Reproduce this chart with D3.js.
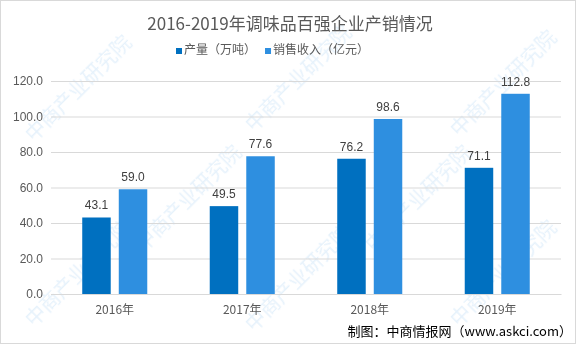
<!DOCTYPE html>
<html><head><meta charset="utf-8">
<script src="https://cdn.jsdelivr.net/npm/d3@7"></script>
<style>
html,body{margin:0;padding:0;background:#fff;}
svg{display:block;font-family:"Noto Sans CJK SC","Microsoft YaHei",sans-serif;}
</style></head>
<body>
<svg id="chart" width="576" height="344"></svg>
<script>
const title = "2016-2019年调味品百强企业产销情况";
const categories = ["2016年", "2017年", "2018年", "2019年"];
const seriesNames = ["产量（万吨）", "销售收入（亿元）"];
const output = [43.1, 49.5, 76.2, 71.1];
const revenue = [59.0, 77.6, 98.6, 112.8];
const yTicks = [0, 20, 40, 60, 80, 100, 120];
const colors = ["#0070C0", "#2E8FE0"];
const source = "制图：中商情报网（www.askci.com）";
const watermark = "中商产业研究院";

const svg = d3.select("#chart");
const W = 576, H = 344;
const m = {left: 51, right: 15, top: 81, bottom: 50};

svg.append("rect").attr("x",0.5).attr("y",0.5).attr("width",W-1).attr("height",H-1)
  .attr("fill","#fff").attr("stroke","#d9d9d9");

// watermarks
const wm = svg.append("g").attr("opacity",0.12);
const wmPos = [[80,90],[300,80],[505,85],[190,200],[420,200],[80,275],[300,280],[505,275]];
wmPos.forEach(([x,y])=>{
  wm.append("text").attr("transform",`translate(${x},${y}) rotate(-45)`)
    .attr("text-anchor","middle").attr("dominant-baseline","middle").attr("font-size",20)
    .attr("fill","#2E8FE0").text(watermark);
});

const x0 = d3.scaleBand().domain(categories).range([m.left, W - m.right]).paddingInner(0.49).paddingOuter(0.245);
const x1 = d3.scaleBand().domain([0,1]).range([0, x0.bandwidth()]).paddingInner(0.22);
const y = d3.scaleLinear().domain([0,120]).range([H - m.bottom, m.top]);

// grid
const yAxis = d3.axisLeft(y).tickValues(yTicks).tickSize(-(W - m.left - m.right)).tickFormat(d3.format(".1f")).tickPadding(8);
const ga = svg.append("g").attr("transform",`translate(${m.left},0)`).call(yAxis);
ga.select(".domain").remove();
ga.selectAll(".tick line").attr("stroke","#d9d9d9");
ga.selectAll(".tick text").attr("fill","#595959").attr("font-size",12).attr("font-family","'Liberation Sans',Arial,sans-serif");

// x axis labels
const xAxis = d3.axisBottom(x0).tickSize(0).tickPadding(11);
const gx = svg.append("g").attr("transform",`translate(0,${H - m.bottom})`).call(xAxis);
gx.select(".domain").attr("stroke","#d9d9d9");
gx.selectAll(".tick text").attr("fill","#595959").attr("font-size",12).attr("font-family","'Noto Sans CJK SC',sans-serif");

const data = categories.map((c,i)=>({c, vals:[output[i], revenue[i]]}));
const groups = svg.append("g").selectAll("g").data(data).join("g")
  .attr("transform", d=>`translate(${x0(d.c)},0)`);
groups.selectAll("rect").data(d=>d.vals.map((v,k)=>({v,k}))).join("rect")
  .attr("x", d=>x1(d.k)).attr("width", x1.bandwidth())
  .attr("y", d=>y(d.v)).attr("height", d=>y(0)-y(d.v))
  .attr("fill", d=>colors[d.k]);
groups.selectAll("text.lbl").data(d=>d.vals.map((v,k)=>({v,k}))).join("text").attr("class","lbl")
  .attr("x", d=>x1(d.k)+x1.bandwidth()/2).attr("y", d=>y(d.v)-8)
  .attr("text-anchor","middle").attr("font-size",12).attr("fill","#404040")
  .attr("font-family","'Liberation Sans',Arial,sans-serif")
  .text(d=>d.v.toFixed(1));

// title
svg.append("text").attr("x",W/2+2).attr("y",30).attr("text-anchor","middle")
  .attr("font-size",17).attr("fill","#595959").text(title);

// legend
const lg = svg.append("g").attr("transform","translate(176,54)");
let lx = 0;
seriesNames.forEach((n,i)=>{
  lg.append("rect").attr("x",lx).attr("y",-6).attr("width",6).attr("height",6).attr("fill",colors[i]);
  const t = lg.append("text").attr("x",lx+8).attr("y",0).attr("font-size",12).attr("fill","#595959").text(n);
  lx += t.node().getComputedTextLength() + 8 + 9;
});

// source
svg.append("text").attr("x",W-4).attr("y",336).attr("text-anchor","end")
  .attr("font-size",13).attr("fill","#000").text(source);
</script>
</body></html>
